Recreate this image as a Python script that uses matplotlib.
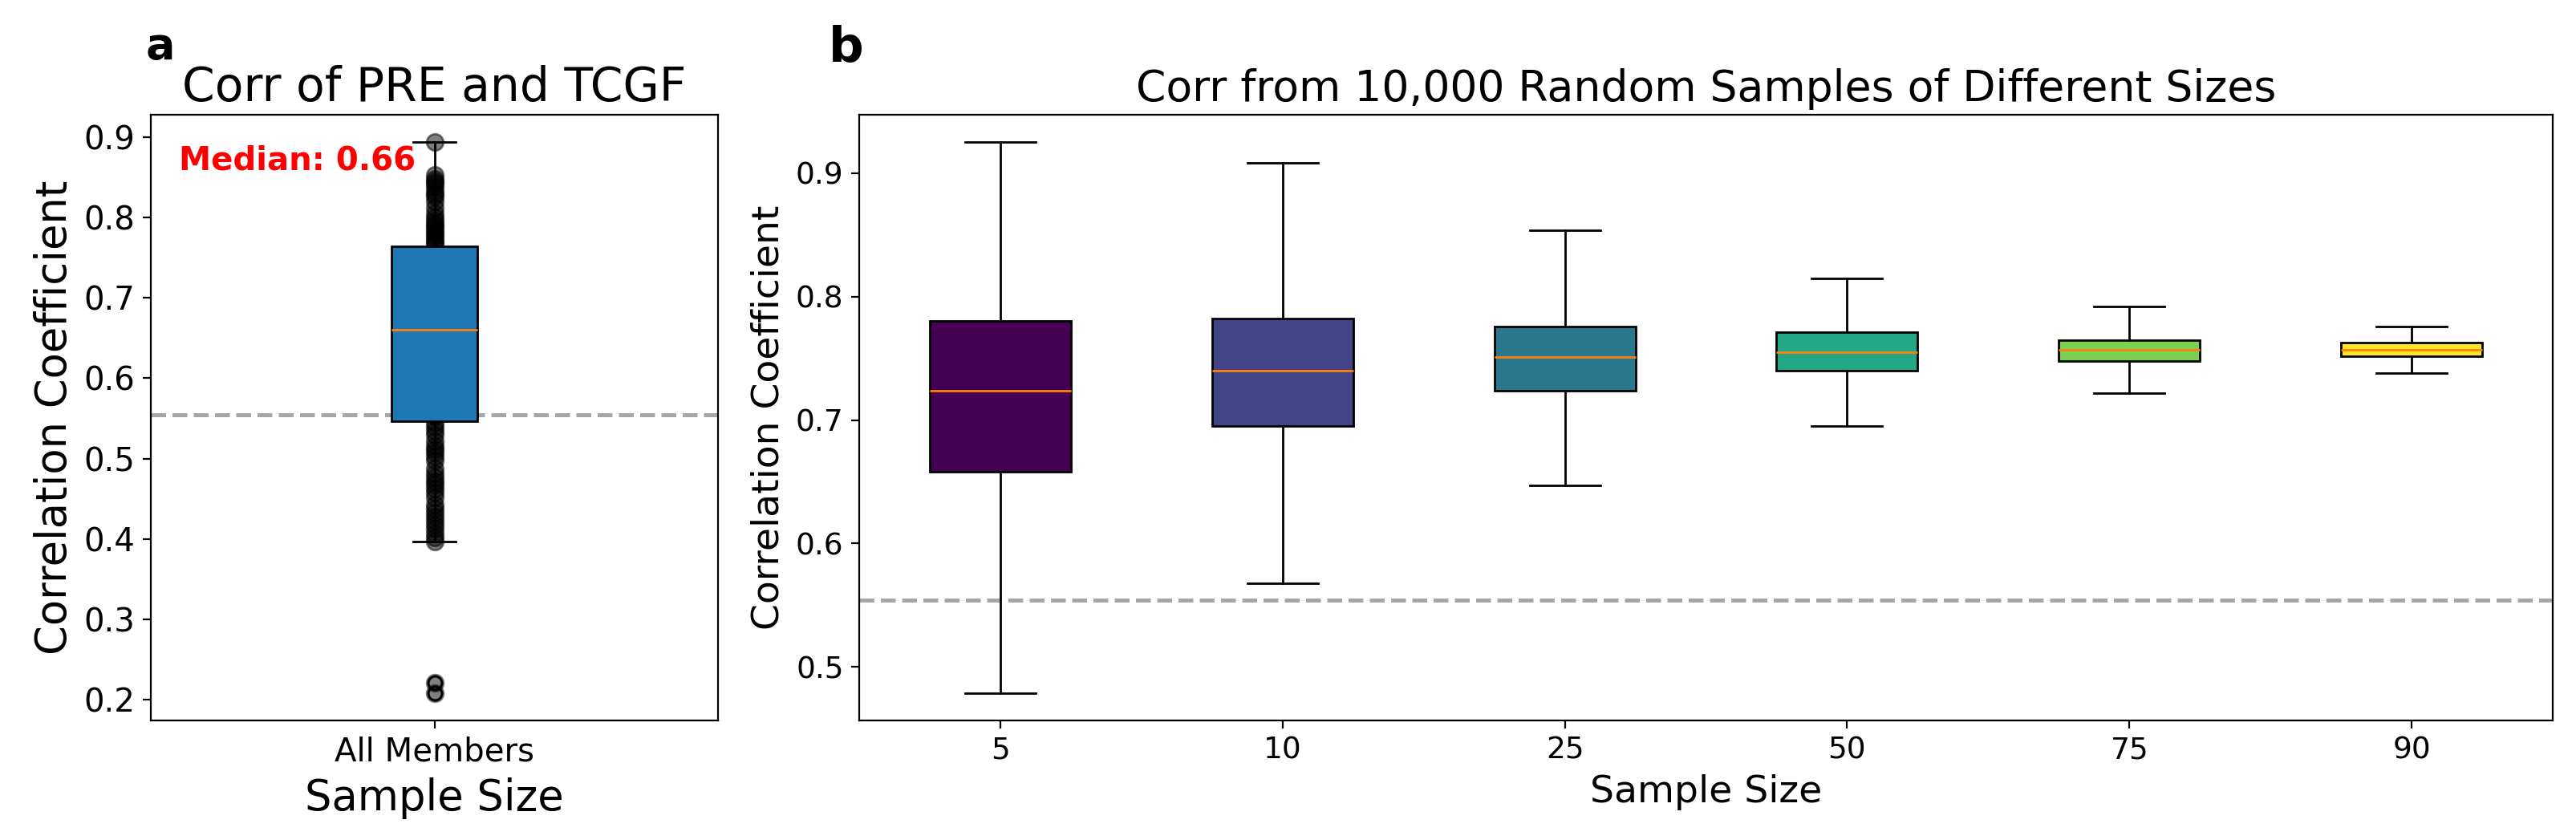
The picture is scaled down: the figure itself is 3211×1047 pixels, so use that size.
import numpy as np
import matplotlib
matplotlib.use("Agg")
import matplotlib.pyplot as plt

# panel a: correlation of every member
member_corr = [0.894, 0.853, 0.848, 0.845, 0.842, 0.838, 0.833, 0.829, 0.826,
               0.820, 0.812, 0.805, 0.800, 0.796, 0.792, 0.789, 0.786, 0.782,
               0.779, 0.776, 0.772, 0.769, 0.766,
               0.755, 0.742, 0.731, 0.720, 0.705, 0.690, 0.678, 0.665, 0.660,
               0.652, 0.640, 0.628, 0.615, 0.600, 0.588, 0.575, 0.562, 0.552,
               0.545, 0.540, 0.535, 0.530, 0.522, 0.516, 0.512, 0.508, 0.503,
               0.498, 0.488, 0.482, 0.477, 0.472, 0.468, 0.463, 0.458, 0.452,
               0.443, 0.438, 0.433, 0.428, 0.423, 0.418, 0.413, 0.407, 0.402,
               0.397, 0.221, 0.208]
a_stats = dict(whislo=0.397, q1=0.547, med=0.660, q3=0.764, whishi=0.894,
               fliers=[0.221, 0.208], label="All Members")

# panel b: boxplots of 10,000 random samples per sample size
sample_sizes = ["5", "10", "25", "50", "75", "90"]
whislo = [0.479, 0.568, 0.647, 0.695, 0.722, 0.738]
q1 = [0.658, 0.695, 0.724, 0.740, 0.748, 0.752]
med = [0.724, 0.740, 0.751, 0.755, 0.757, 0.757]
q3 = [0.780, 0.782, 0.776, 0.771, 0.765, 0.763]
whishi = [0.925, 0.908, 0.854, 0.815, 0.792, 0.776]

threshold = 0.554

fig = plt.figure(figsize=(16.055, 5.235), dpi=200)
ax1 = fig.add_axes([0.05855, 0.14231, 0.22018, 0.72111])
ax2 = fig.add_axes([0.33354, 0.14231, 0.65743, 0.72111])

# --- a ---
ax1.axhline(threshold, color="gray", linestyle="--", linewidth=1.8, alpha=0.7, zorder=1.5)
ax1.scatter(np.ones(len(member_corr)), member_corr, color="black", alpha=0.5, s=55, zorder=1)
bp = ax1.bxp([a_stats], positions=[1], widths=0.15, patch_artist=True)
for box in bp["boxes"]:
    box.set_facecolor("#1f77b4")
ax1.set_xlim(0.5, 1.5)
ax1.set_title("Corr of PRE and TCGF", fontsize=21)
ax1.set_ylabel("Correlation Coefficient", fontsize=19)
ax1.set_xlabel("Sample Size", fontsize=19)
ax1.tick_params(labelsize=14.5)
ax1.text(0.05, 0.95, f"Median: {a_stats['med']:.2f}", transform=ax1.transAxes,
         color="red", fontsize=14.5, fontweight="bold", va="top", ha="left")

# --- b ---
stats = []
for i in range(len(sample_sizes)):
    stats.append(dict(whislo=whislo[i], q1=q1[i], med=med[i], q3=q3[i],
                      whishi=whishi[i], fliers=[], label=sample_sizes[i]))
ax2.axhline(threshold, color="gray", linestyle="--", linewidth=1.8, alpha=0.7, zorder=1.5)
bp2 = ax2.bxp(stats, positions=range(1, len(stats) + 1), widths=0.5, patch_artist=True)
colors = plt.cm.viridis(np.linspace(0, 1, len(stats)))
for box, c in zip(bp2["boxes"], colors):
    box.set_facecolor(c)
ax2.set_title("Corr from 10,000 Random Samples of Different Sizes", fontsize=19.3)
ax2.set_ylabel("Correlation Coefficient", fontsize=17)
ax2.set_xlabel("Sample Size", fontsize=17)
ax2.tick_params(labelsize=13.5)

fig.text(0.0567, 0.9303, "a", fontsize=19.5, fontweight="bold", va="baseline")
fig.text(0.3217, 0.9265, "b", fontsize=22, fontweight="bold", va="baseline")

fig.savefig("out.png", dpi=200)
